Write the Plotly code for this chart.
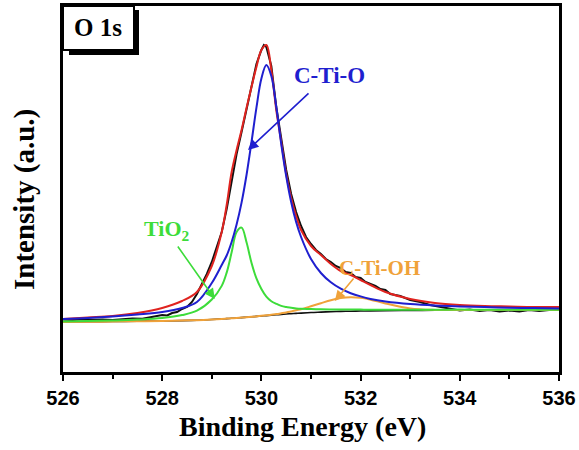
import plotly.graph_objects as go

# ---- data ----
energy = [526.0, 526.5, 527.0, 527.5, 528.0, 528.4, 528.7, 529.0, 529.2, 529.3,
          529.4, 529.5, 529.6, 529.7, 529.8, 529.9, 530.0, 530.1, 530.2, 530.3,
          530.4, 530.5, 530.6, 530.7, 530.8, 531.0, 531.2, 531.4, 531.6, 531.8,
          532.0, 532.2, 532.5, 533.0, 533.5, 534.0, 534.5, 535.0, 535.5, 536.0]

background = [50, 50.2, 50.5, 50.8, 51, 51.4, 51.8, 52.5, 53.1, 53.4,
              53.7, 54, 54.4, 54.8, 55.2, 55.6, 56, 56.4, 56.8, 57.2,
              57.6, 58, 58.3, 58.6, 58.9, 59.5, 59.9, 60.3, 60.6, 60.8,
              61, 61.1, 61.3, 61.5, 61.8, 62, 62, 62, 62, 62]

envelope = [53, 54.5, 56, 59, 64, 71, 80, 106, 140, 167,
            200, 222, 242, 264, 285, 305, 322, 327, 302, 262,
            230, 198, 174, 156, 142, 126, 117, 108, 101, 97,
            92, 87, 80, 73, 69, 67, 66, 65.5, 65, 65]

c_ti_o = [53, 54, 55.5, 57.5, 60, 64, 70, 89, 107, 116.5,
          130, 147.5, 169.4, 197, 229.8, 264.4, 293.5, 306.9, 296, 265,
          228, 196, 170, 150, 135, 113, 99, 89.7, 83.3, 78.8,
          75.6, 73.1, 70.6, 68, 66.5, 65.6, 64.9, 64.3, 63.9, 63.6]

tio2 = [50.5, 50.9, 51.5, 52.4, 54, 56.9, 61.3, 72.5, 86.1, 99.4,
        119.7, 140, 144.4, 129.8, 109.2, 93.6, 83, 75.4, 70.8, 68.2,
        66.1, 65, 64.3, 63.6, 63.2, 63, 62.7, 62.6, 62.6, 62.5,
        62.4, 62.3, 62.3, 62.2, 62.3, 62.4, 62.3, 62.3, 62.2, 62.2]

c_ti_oh = [50, 50.2, 50.5, 50.8, 51, 51.4, 51.8, 52.5, 53.1, 53.4,
           53.7, 54, 54.4, 54.8, 55.2, 55.6, 56.2, 56.7, 57.3, 57.9,
           58.7, 59.6, 60.5, 61.8, 62.8, 65.7, 68.8, 71.8, 74, 74.8,
           74.2, 72.3, 68.6, 63.6, 62.1, 62, 62, 62, 62, 62]

exp_energy = [526.0, 526.2, 526.4, 526.6, 526.8, 527.0, 527.2, 527.4, 527.6, 527.8,
              528.0, 528.1, 528.2, 528.3, 528.4, 528.5, 528.6, 528.7, 528.8, 528.9,
              529.0, 529.1, 529.2, 529.3, 529.4, 529.5, 529.6, 529.7, 529.8, 529.9,
              530.0, 530.05, 530.1, 530.2, 530.3, 530.4, 530.5, 530.6, 530.7, 530.8,
              530.9, 531.0, 531.1, 531.2, 531.3, 531.4, 531.5, 531.6, 531.7, 531.8,
              531.9, 532.0, 532.1, 532.2, 532.3, 532.4, 532.5, 532.6, 532.8, 533.0,
              533.2, 533.4, 533.6, 533.8, 534.0, 534.2, 534.4, 534.6, 534.8, 535.0,
              535.2, 535.4, 535.6, 535.8, 536.0]
exp_intensity = [52.5, 52, 52.8, 52.2, 52.6, 52, 52.8, 53.5, 53.2, 55,
                 57, 56.5, 59, 60, 63, 65, 70, 78, 88, 98,
                 110, 124, 140, 163, 192, 218, 240, 262, 286, 308,
                 322, 327, 325, 306, 265, 232, 202, 178, 160, 146,
                 135, 128, 122, 118, 113, 110, 106, 104, 100, 99,
                 95, 94, 90, 88, 86, 83, 82, 78, 76, 72,
                 70, 67, 65, 63, 61.5, 62.5, 61, 62, 60.5, 61.5,
                 60.5, 62, 61, 62, 62.5]

x_ticks = [526, 528, 530, 532, 534, 536]

BLACK = "#111111"
RED = "#e0231f"
BLUE = "#1f1fcf"
GREEN = "#3ddc3a"
ORANGE = "#f0a23a"

fig = go.Figure()
fig.add_trace(go.Scatter(x=energy, y=background, mode="lines",
                         line=dict(color=BLACK, width=1.6, shape="spline")))
fig.add_trace(go.Scatter(x=exp_energy, y=exp_intensity, mode="lines",
                         line=dict(color=BLACK, width=2)))
fig.add_trace(go.Scatter(x=energy, y=c_ti_oh, mode="lines",
                         line=dict(color=ORANGE, width=2, shape="spline")))
fig.add_trace(go.Scatter(x=energy, y=tio2, mode="lines",
                         line=dict(color=GREEN, width=2, shape="spline")))
fig.add_trace(go.Scatter(x=energy, y=envelope, mode="lines",
                         line=dict(color=RED, width=2, shape="spline")))
fig.add_trace(go.Scatter(x=energy, y=c_ti_o, mode="lines",
                         line=dict(color=BLUE, width=2, shape="spline")))

serif = "Liberation Serif, Times New Roman, serif"
sans = "Liberation Sans, Arial, sans-serif"

fig.update_xaxes(range=[526, 536], tickvals=x_ticks, ticks="outside", ticklen=6,
                 tickwidth=2, tickcolor="black", automargin=False,
                 minor=dict(dtick=1, ticks="outside", ticklen=4, tickwidth=2, tickcolor="black"),
                 showline=True, linewidth=2.5, linecolor="black", mirror=True,
                 showgrid=False, zeroline=False,
                 tickfont=dict(family=sans, size=20, color="black", weight="bold"))
fig.update_yaxes(range=[0, 366], showticklabels=False, ticks="", automargin=False,
                 showline=True, linewidth=2.5, linecolor="black", mirror=True,
                 showgrid=False, zeroline=False)

# pixel positions converted to paper coords
def px2paper(px, py):
    return (px - 63) / 496.0, (372 - py) / 366.0

# axis titles
atx, aty = px2paper(302, 426)
fig.add_annotation(xref="paper", yref="paper", x=atx, y=aty, text="Binding Energy (eV)",
                   showarrow=False, xanchor="center", yanchor="middle",
                   font=dict(family=serif, size=28, color="black", weight="bold"))
ytx, yty = px2paper(25, 200)
fig.add_annotation(xref="paper", yref="paper", x=ytx, y=yty, text="Intensity (a.u.)",
                   showarrow=False, xanchor="center", yanchor="middle", textangle=-90,
                   font=dict(family=serif, size=29, color="black", weight="bold"))

# O 1s label box with shadow
sx0, sy0 = px2paper(69, 55)
sx1, sy1 = px2paper(139, 10)
bx0, by0 = px2paper(63, 50)
bx1, by1 = px2paper(134, 6)
fig.add_shape(type="rect", xref="paper", yref="paper", x0=sx0, y0=sy0, x1=sx1, y1=sy1,
              fillcolor="black", line=dict(width=0), layer="above")
fig.add_shape(type="rect", xref="paper", yref="paper", x0=bx0, y0=by0, x1=bx1, y1=by1,
              fillcolor="white", line=dict(color="black", width=2), layer="above")
tx, ty = px2paper(98, 28)
fig.add_annotation(xref="paper", yref="paper", x=tx, y=ty, text="O 1s", showarrow=False,
                   xanchor="center", yanchor="middle",
                   font=dict(family=serif, size=25, color="black", weight="bold"))

# component labels
fig.add_annotation(x=531.38, y=297, text="C-Ti-O", showarrow=False,
                   xanchor="center", yanchor="middle",
                   font=dict(family=serif, size=23, color=BLUE, weight="bold"))
fig.add_annotation(x=528.1, y=142, text="TiO<sub>2</sub>", showarrow=False,
                   xanchor="center", yanchor="middle",
                   font=dict(family=serif, size=22, color=GREEN, weight="bold"))
fig.add_annotation(x=532.38, y=104, text="C-Ti-OH", showarrow=False,
                   xanchor="center", yanchor="middle",
                   font=dict(family=serif, size=21, color=ORANGE, weight="bold"))

# arrows
fig.add_annotation(x=529.73, y=222, text="", showarrow=True, arrowhead=2, arrowsize=1.3,
                   arrowwidth=1.6, arrowcolor=BLUE, ax=62, ay=-58)
fig.add_annotation(x=529.06, y=73, text="", showarrow=True, arrowhead=2, arrowsize=1.3,
                   arrowwidth=1.6, arrowcolor=GREEN, ax=-38, ay=-54)
fig.add_annotation(x=531.48, y=71, text="", showarrow=True, arrowhead=2, arrowsize=1.3,
                   arrowwidth=1.6, arrowcolor=ORANGE, ax=20, ay=-24)

fig.update_layout(width=579, height=450, margin=dict(l=63, r=20, t=6, b=78),
                  plot_bgcolor="white", paper_bgcolor="white", showlegend=False)

fig.write_html("out.html", config={"displayModeBar": False},
               post_script="document.body.style.margin='0px';document.body.style.overflow='hidden';")
